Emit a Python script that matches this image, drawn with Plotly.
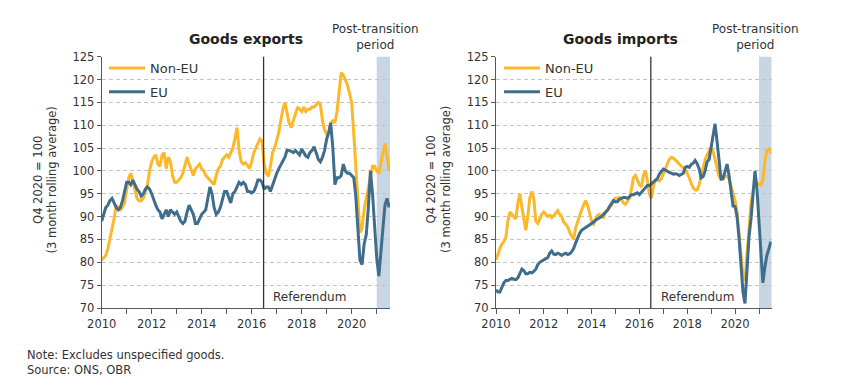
import pandas as pd
import plotly.graph_objects as go

# ---------------- data ----------------
months = pd.date_range("2010-01-01", periods=139, freq="MS")

exp_non_eu = [
    80.5, 81, 81.5, 83, 85, 87, 89.5, 92.5, 92, 91.5, 92, 93,
    96, 98.5, 99.5, 98, 96, 94, 93.5, 93.5, 94, 95.5, 97, 100,
    102, 103, 103.5, 101.5, 101, 103.5, 104, 100.5, 103, 102, 99, 97.5,
    97.5, 98, 98.5, 99.5, 101, 103, 101.5, 100, 99, 100.5, 101, 101.5,
    100.5, 100, 99, 98.5, 98, 97.5, 97, 99, 100.5, 101, 102.5, 103,
    103.5, 103, 104, 105, 107, 109.5, 104.5, 102, 101.5, 101.8, 101.2, 100.5,
    102, 104, 105, 106, 107, 106.5, 101.5, 99.5, 98.8, 101, 104, 105,
    106.5, 108.5, 111, 113.5, 115, 113, 110.5, 109.5, 111, 113, 114, 113.5,
    113, 114, 113, 113.5, 113.5, 114, 114, 114.5, 115, 114.5, 111, 109,
    108, 108.5, 110.5, 111, 110.5, 113, 117, 121.5, 121, 120, 118.8, 117,
    115, 108, 101, 93, 86.5, 87.5, 91.5, 94, 96.5, 99, 101, 101,
    100, 99.5, 101.5, 103.5, 106, 103.5, 100,
]
exp_eu = [
    89, 90.5, 92, 92.5, 93.5, 94, 93, 92, 91.5, 92, 93.5, 95.5,
    97.5, 97.5, 97, 98, 97, 96, 95.5, 94.5, 95, 96, 96.5, 96,
    95, 93.5, 92.5, 91.5, 91, 89.5, 90.5, 91.5, 90, 91.5, 91, 90.5,
    91, 90, 89, 88.5, 89, 91, 92.5, 91.5, 90.5, 88.5, 88.5, 89.5,
    90.5, 91, 91.5, 94, 96.5, 95, 92, 90.5, 91, 92, 94, 95.5,
    95.5, 94, 93, 95, 95.5, 96.5, 97.5, 97, 97.5, 97, 95.5, 95.5,
    95.2, 95.5, 96.5, 98, 98, 97.5, 96, 96.5, 96.5, 95.5, 97, 98.5,
    99.5, 100.5, 101.3, 102, 103, 104.5, 104.5, 104.3, 104, 104.5, 104, 103.5,
    104.8, 104, 103.3, 103, 104, 104.5, 105.3, 104, 102.5, 102, 103, 104.5,
    107, 108.5, 110.5, 105, 97, 98.5, 98.5, 99, 101.5, 100, 99.5, 99.5,
    99, 98.5, 94.5, 88, 80.5, 79.5, 84, 86, 92, 100, 95, 88,
    81, 77, 82, 88.5, 92.5, 94, 92,
]
imp_non_eu = [
    80.5, 82, 83, 84, 84.5, 85.5, 89, 91, 90.5, 90, 89.5, 93,
    95, 92, 89.5, 87, 90, 94, 95.5, 94, 89, 88.5, 89.5, 90.5,
    91, 90.5, 90, 90.3, 89.8, 90.2, 90.8, 91.3, 90.5, 90, 88.8, 88.3,
    87.8, 86.5, 85.8, 85, 87.5, 89, 90.2, 91.5, 92.5, 93.5, 92.5, 90.5,
    89, 88.4, 89.5, 90.3, 90.5, 90, 89.8, 91, 91.5, 92, 92.5, 93.5,
    94, 94, 94.2, 93.8, 93, 92.7, 93.3, 94, 96, 98.5, 99, 98,
    97, 96.5, 99, 100, 98, 95, 94, 96.5, 98, 98, 97.8, 98.3,
    99.5, 100.5, 101.5, 102.5, 103, 102.8, 102.5, 102, 101.5, 101, 100.6, 100.3,
    99.5, 98.5, 97.3, 96.3, 95.8, 95.8, 97, 98.8, 101, 102.5, 103.5, 104.5,
    105.3, 104.2, 102.5, 100.5, 98.8, 98.3, 98.2, 99, 98.8, 98.3, 96.5, 95.2,
    93.5, 91, 86.5, 81.5, 77, 76, 82, 89, 93, 95.5, 98, 97.5,
    97, 97, 98, 102, 104.5, 104.8, 103.8,
]
imp_eu = [
    74, 73.5, 73.5, 74.5, 75.5, 76, 76, 76.3, 76.5, 76.3, 76.2, 76.6,
    77.5, 78.5, 78.2, 77.5, 77.5, 77.8, 77.7, 78, 78.5, 79.5, 80, 80.3,
    80.5, 80.8, 81, 82, 82.5, 81.8, 81.7, 82, 81.8, 81.5, 81.8, 82,
    81.7, 81.9, 82.3, 83, 84.2, 85.3, 86.3, 87, 87.4, 87.6, 87.9, 88.2,
    88.4, 88.8, 89.2, 89.5, 89.7, 90, 90.5, 91, 91.4, 92.2, 93, 93.5,
    93.2, 93.3, 93.8, 94, 94.2, 94.2, 94, 94.3, 94.8, 94.8, 95, 95.2,
    94.8, 95.3, 96, 96.5, 96.8, 96.8, 97.2, 97.5, 97.8, 98.3, 99.3, 99.8,
    100.4, 100.2, 99.9, 99.7, 99.5, 99.3, 99.4, 99.3, 99, 99.2, 99.5, 100.8,
    101, 100.8, 101.4, 101.7, 102.3, 101.6, 100.5, 98.5, 98.8, 100, 102, 102.5,
    105, 107.5, 110.3, 106.5, 102, 98.2, 98.3, 100, 101.5, 99, 95, 92.3,
    92.2, 90, 85.5, 78, 73.5, 71, 79, 85.5, 89.5, 95, 100, 96,
    88.5, 81, 75.5, 79, 81.5, 83, 84.5,
]

year_ticks = list(range(2010, 2022))
tick_labels = [str(y) if y % 2 == 0 else "" for y in year_ticks]
referendum_date = "2016-06-23"
post_transition_start = "2021-01-01"
x_end = "2021-07-14"

# ---------------- style ----------------
YELLOW = "#FBB829"
BLUE = "#3F6E8D"
TXT = "#333333"
AX = "#595959"
FONT = "DejaVu Sans"
OFF = 8            # page body margin in the browser
W, H = 850 - OFF, 392 - OFF


def px_x(p):
    return (p - OFF) / W


def px_y(p):
    return 1 - (p - OFF) / H


fig = go.Figure()

panels = [
    ("x", "y", "legend", exp_non_eu, exp_eu),
    ("x2", "y2", "legend2", imp_non_eu, imp_eu),
]
for xa, ya, lg, non_eu, eu in panels:
    fig.add_trace(go.Scatter(x=months, y=non_eu, name="Non-EU", mode="lines",
                             line=dict(color=YELLOW, width=3),
                             xaxis=xa, yaxis=ya, legend=lg, legendgroup=lg + "a"))
    fig.add_trace(go.Scatter(x=months, y=eu, name="EU", mode="lines",
                             line=dict(color=BLUE, width=3),
                             xaxis=xa, yaxis=ya, legend=lg, legendgroup=lg + "b"))

tickvals = [f"{y}-01-01" for y in year_ticks]

xcommon = dict(type="date", range=["2010-01-01", x_end], tickvals=tickvals,
               ticktext=tick_labels, ticks="outside", ticklen=5, tickcolor=AX,
               showline=True, linecolor=AX, linewidth=1, showgrid=False,
               zeroline=False, tickfont=dict(family=FONT, size=11.5, color=TXT),
               automargin=False)
ycommon = dict(range=[70, 125], tick0=70, dtick=5, ticks="outside", ticklen=4,
               tickcolor=AX, showline=True, linecolor=AX, linewidth=1,
               showgrid=True, gridcolor="#c4c4c4", gridwidth=1, griddash="4px,3px",
               zeroline=False, tickfont=dict(family=FONT, size=11.5, color=TXT),
               automargin=False, domain=[px_y(308), px_y(56.7)])

legend_common = dict(bgcolor="rgba(0,0,0,0)", font=dict(family=FONT, size=13, color=TXT),
                     itemwidth=36, tracegroupgap=4, xanchor="left", yanchor="top",
                     traceorder="grouped")

fig.update_layout(
    width=W, height=H,
    margin=dict(l=0, r=0, t=0, b=0),
    paper_bgcolor="white", plot_bgcolor="white",
    font=dict(family=FONT, color=TXT),
    xaxis=dict(xcommon, domain=[px_x(101.7), px_x(390)], anchor="y"),
    yaxis=dict(ycommon, anchor="x"),
    xaxis2=dict(xcommon, domain=[px_x(496), px_x(771.7)], anchor="y2"),
    yaxis2=dict(ycommon, anchor="x2"),
    legend=dict(legend_common, x=px_x(104), y=px_y(53)),
    legend2=dict(legend_common, x=px_x(499), y=px_y(53)),
    showlegend=True,
)

shapes = []
annotations = []
for xa, ya, cx_title, title, cx_post, cx_ref, cx_ylab in [
    ("x", "y", 246, "Goods exports", 375, 309, 44.5),
    ("x2", "y2", 620, "Goods imports", 755, 697, 438),
]:
    shapes.append(dict(type="rect", xref=xa, yref=f"{ya} domain",
                       x0=post_transition_start, x1=x_end, y0=0, y1=1,
                       fillcolor="#C8D5E2", line=dict(width=0), layer="below"))
    shapes.append(dict(type="line", xref=xa, yref=f"{ya} domain",
                       x0=referendum_date, x1=referendum_date, y0=0, y1=1,
                       line=dict(color="#333333", width=1.3)))
    annotations.append(dict(text=f"<b>{title}</b>", x=px_x(cx_title), y=px_y(39),
                            xref="paper", yref="paper", showarrow=False,
                            font=dict(family=FONT, size=14, color="#222222"),
                            xanchor="center", yanchor="middle"))
    annotations.append(dict(text="Post-transition<br>period", x=px_x(cx_post), y=px_y(36.5),
                            xref="paper", yref="paper", showarrow=False, align="center",
                            font=dict(family=FONT, size=12, color=TXT),
                            xanchor="center", yanchor="middle"))
    annotations.append(dict(text="Referendum", x=px_x(cx_ref), y=px_y(297),
                            xref="paper", yref="paper", showarrow=False,
                            font=dict(family=FONT, size=12, color=TXT),
                            xanchor="center", yanchor="middle"))
    annotations.append(dict(text="Q4 2020 = 100<br>(3 month rolling average)",
                            x=px_x(cx_ylab), y=px_y(180), xref="paper", yref="paper",
                            showarrow=False, textangle=-90, align="center",
                            font=dict(family=FONT, size=11.5, color=TXT),
                            xanchor="center", yanchor="middle"))

annotations.append(dict(text="Note: Excludes unspecified goods.<br>Source: ONS, OBR",
                        x=px_x(25), y=px_y(362), xref="paper", yref="paper",
                        showarrow=False, align="left",
                        font=dict(family=FONT, size=11.5, color=TXT),
                        xanchor="left", yanchor="middle"))

fig.update_layout(shapes=shapes, annotations=annotations)

fig.write_html("out.html")
